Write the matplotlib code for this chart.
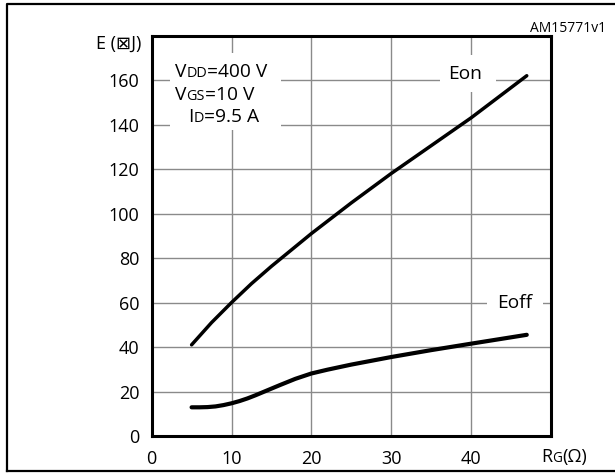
import matplotlib
matplotlib.use("Agg")
import matplotlib.pyplot as plt
from matplotlib.lines import Line2D
from matplotlib.patches import Rectangle

plt.rcParams['font.family'] = ['Open Sans', 'DejaVu Sans']

# Switching energy vs gate resistance
rg_on = [5, 7.5, 10, 12.5, 15, 20, 25, 30, 35, 40, 47]
eon = [41, 51, 60, 68.5, 76.3, 91, 104.8, 118, 130.5, 143, 162]

rg_off = [5, 6, 7, 8, 9, 10, 11, 12, 13, 14, 16, 18, 20, 22, 25, 30, 35, 40, 47]
eoff = [12.9, 12.9, 13.0, 13.3, 13.9, 14.7, 15.7, 16.9, 18.3, 19.8, 22.8, 25.7, 28.1,
        29.8, 32.1, 35.5, 38.6, 41.5, 45.5]

x_ticks = [0, 10, 20, 30, 40]
y_ticks = [0, 20, 40, 60, 80, 100, 120, 140, 160]

W, H = 615, 473
fig = plt.figure(figsize=(W / 100, H / 100), dpi=100)

def px(x0, y0, x1, y1):
    """Figure-fraction rect from pixel box (top-left origin)."""
    return [x0 / W, 1 - y1 / H, (x1 - x0) / W, (y1 - y0) / H]

ax = fig.add_axes(px(151.7, 35.7, 550.7, 436))
ax.set_xlim(0, 50)
ax.set_ylim(0, 180)
ax.set_xticks(x_ticks)
ax.set_yticks(y_ticks)
ax.tick_params(length=0, labelsize=13, pad=9)
ax.tick_params(axis='x', pad=10)
for s in ax.spines.values():
    s.set_linewidth(2.2)
ax.grid(True, color='#8a8a8a', linewidth=1.0)
ax.set_axisbelow(True)

ax.plot(rg_on, eon, color='black', lw=2.5, solid_capstyle='round', zorder=3)
ax.plot(rg_off, eoff, color='black', lw=3.0, solid_capstyle='round', zorder=3)

# white patches that break the grid behind the labels
for (x0, y0, x1, y1) in [(170, 53, 281, 130), (440, 55, 496, 92), (487, 292, 543, 318)]:
    ax.add_patch(Rectangle((x0, H - y1), x1 - x0, y1 - y0, transform=None,
                           facecolor='white', edgecolor='none', zorder=1.5))

fig.canvas.draw()
renderer = fig.canvas.get_renderer()

def rich(x, y, parts, size):
    """Draw a run of text pieces on a common baseline at pixel (x, y)."""
    for txt, scale in parts:
        t = fig.text(x / W, 1 - y / H, txt, fontsize=size * scale,
                     va='baseline', ha='left')
        x += t.get_window_extent(renderer).width

rich(175, 77, [("V", 1), ("DD", 0.75), ("=400 V", 1)], 13.8)
rich(175, 99.5, [("V", 1), ("GS", 0.75), ("=10 V", 1)], 13.8)
rich(188, 122, [("I", 1), ("D", 0.75), ("=9.5 A", 1)], 13.8)

fig.text(448 / W, 1 - 79 / H, "Eon", fontsize=13.8, va='baseline', ha='left')
fig.text(497 / W, 1 - 307.5 / H, "Eoff", fontsize=13.8, va='baseline', ha='left')

fig.text(141 / W, 1 - 49 / H, "E (\u22a0J)", fontsize=13, va='baseline', ha='right')
rich(541, 462, [("R", 1), ("G", 0.75), ("(\u03a9)", 1)], 13)
fig.text(606 / W, 1 - 31.5 / H, "AM15771v1", fontsize=10, va='baseline', ha='right')

# outer frame
frame_kw = dict(color='black', lw=1.6, transform=fig.transFigure, solid_capstyle='projecting')
fig.add_artist(Line2D([6.5 / W, 6.5 / W, 1.01], [1 - 471 / H, 1 - 4 / H, 1 - 4 / H], **frame_kw))
fig.add_artist(Line2D([6.5 / W, 1.01], [1 - 471 / H, 1 - 471 / H], **frame_kw))

fig.savefig("out.png", dpi=100)
